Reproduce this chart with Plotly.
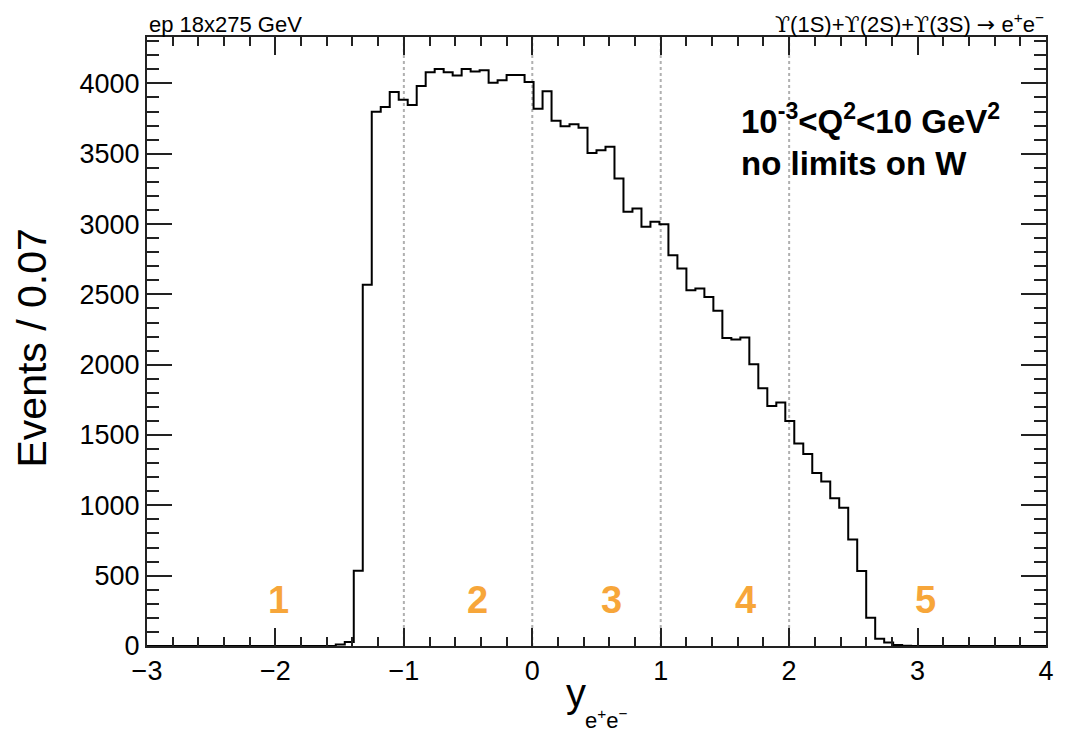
import numpy as np
import plotly.graph_objects as go

# Histogram definition: 100 bins of width 0.07 from -3 to 4
x_low = -3.0
bin_width = 0.07
n_bins = 100

# Bin contents (Events / 0.07)
counts = [0] * 21 + [
    10, 28, 535, 2569, 3798, 3832, 3939, 3883, 3846, 3981,
    4080, 4102, 4080, 4057, 4102, 4085, 4094, 4004, 4023, 4060,
    4060, 4010, 3820, 3945, 3735, 3696, 3710, 3684, 3506, 3525,
    3549, 3324, 3087, 3110, 2980, 3016, 2999, 2779, 2684, 2530,
    2541, 2482, 2383, 2190, 2180, 2194, 2004, 1832, 1706, 1732,
    1600, 1440, 1365, 1230, 1170, 1050, 983, 758, 533, 201,
    52, 24, 7, 2,
]
counts = counts + [0] * (n_bins - len(counts))

region_lines = [-1, 0, 1, 2]
region_labels = ["1", "2", "3", "4", "5"]
region_label_x = [-1.98, -0.43, 0.62, 1.66, 3.06]
region_label_y = 330

x_ticks = [-3, -2, -1, 0, 1, 2, 3, 4]
y_ticks = [0, 500, 1000, 1500, 2000, 2500, 3000, 3500, 4000]

edges = x_low + bin_width * np.arange(n_bins + 1)
step_y = list(counts) + [counts[-1]]

FONT = "Liberation Sans, Arial, Helvetica, sans-serif"
UPS = '<span style="font-family:DejaVu Serif">ϒ</span>'
ARROW = '<span style="font-family:DejaVu Sans">→</span>'

fig = go.Figure()
fig.add_trace(go.Scatter(
    x=edges, y=step_y, mode="lines", line_shape="hv",
    line=dict(color="black", width=2), showlegend=False, hoverinfo="skip",
))

shapes = []
for xv in region_lines:
    shapes.append(dict(type="line", xref="x", yref="paper", x0=xv, x1=xv, y0=0, y1=1,
                       line=dict(color="#b0b0b0", width=2, dash="dot"), layer="below"))

annotations = []
for lab, xv in zip(region_labels, region_label_x):
    annotations.append(dict(x=xv, y=region_label_y, xref="x", yref="y", text="<b>" + lab + "</b>",
                            showarrow=False, font=dict(family=FONT, size=38, color="#f7a63a"),
                            xanchor="center", yanchor="middle"))

annotations += [
    dict(x=0, y=1.0, xref="paper", yref="paper", text="ep 18x275 GeV", showarrow=False,
         xanchor="left", yanchor="bottom", yshift=-2,
         font=dict(family=FONT, size=22, color="black")),
    dict(x=1, y=1.0, xref="paper", yref="paper",
         text=UPS + "(1S)+" + UPS + "(2S)+" + UPS + "(3S) " + ARROW + " e<sup>+</sup>e<sup>−</sup>",
         showarrow=False, xanchor="right", yanchor="bottom", yshift=-2,
         font=dict(family=FONT, size=22, color="black")),
    dict(x=0.659, y=0.866, xref="paper", yref="paper",
         text="<b>10<sup>-3</sup>&lt;Q<sup>2</sup>&lt;10 GeV<sup>2</sup></b>", showarrow=False,
         xanchor="left", yanchor="middle", font=dict(family=FONT, size=33, color="black")),
    dict(x=0.659, y=0.792, xref="paper", yref="paper",
         text="<b>no limits on W</b>", showarrow=False,
         xanchor="left", yanchor="middle", font=dict(family=FONT, size=33, color="black")),
    dict(x=0.477, y=-0.077, xref="paper", yref="paper", text="y", showarrow=False,
         xanchor="center", yanchor="middle", font=dict(family=FONT, size=40, color="black")),
    dict(x=0.511, y=-0.12, xref="paper", yref="paper", text="e<sup>+</sup>e<sup>−</sup>", showarrow=False,
         xanchor="center", yanchor="middle", font=dict(family=FONT, size=22, color="black")),
    dict(x=-0.128, y=0.49, xref="paper", yref="paper", text="Events / 0.07", showarrow=False,
         textangle=-90, xanchor="center", yanchor="middle",
         font=dict(family=FONT, size=41, color="black")),
]

fig.update_layout(
    width=1066, height=733,
    margin=dict(l=147, r=14, t=37, b=87),
    paper_bgcolor="white", plot_bgcolor="white",
    shapes=shapes, annotations=annotations,
    xaxis=dict(range=[-3, 4], tickvals=x_ticks, ticks="inside", ticklen=18, tickwidth=1.5,
               tickcolor="#222", showline=True, linecolor="#222", linewidth=2, mirror="ticks",
               showgrid=False, zeroline=False,
               minor=dict(dtick=0.2, tick0=-3, ticks="inside", ticklen=9, tickwidth=1.5,
                          tickcolor="#222", showgrid=False),
               tickfont=dict(family=FONT, size=27, color="black")),
    yaxis=dict(range=[0, 4330], tickvals=y_ticks, ticks="inside", ticklen=25, tickwidth=1.5,
               tickcolor="#222", showline=True, linecolor="#222", linewidth=2, mirror="ticks",
               showgrid=False, zeroline=False,
               minor=dict(dtick=100, tick0=0, ticks="inside", ticklen=12, tickwidth=1.5,
                          tickcolor="#222", showgrid=False),
               tickfont=dict(family=FONT, size=27, color="black")),
)

fig.write_html("out.html")
